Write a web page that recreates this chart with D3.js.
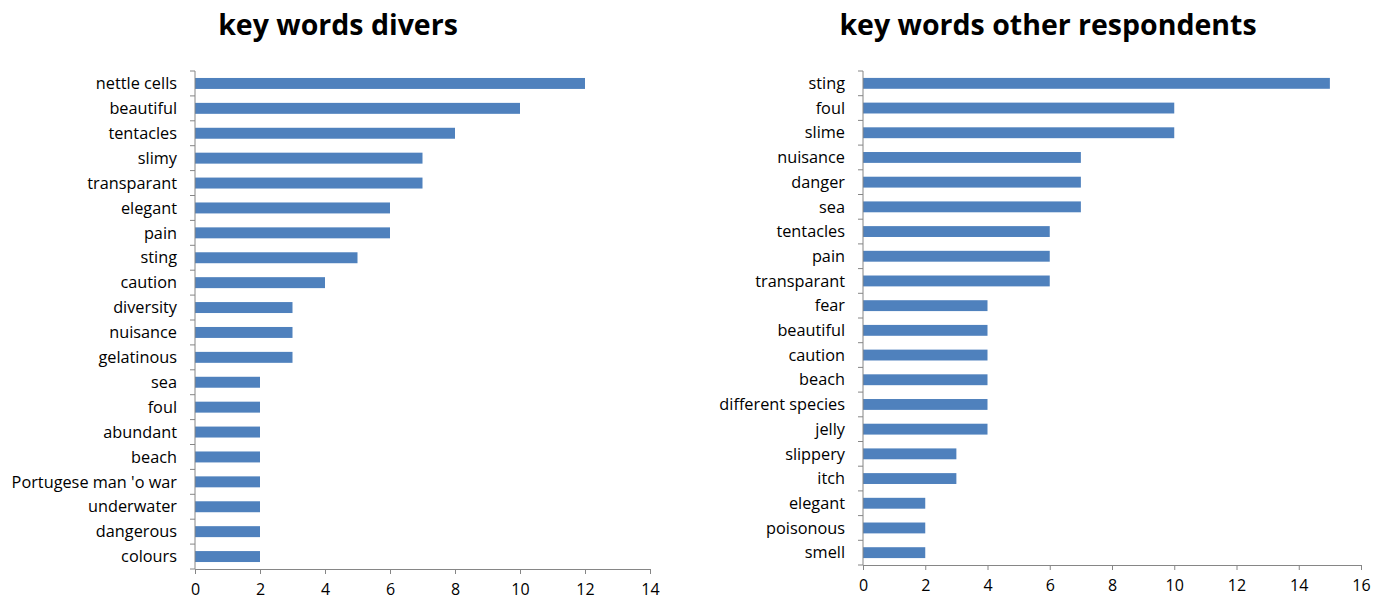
<!DOCTYPE html>
<html>
<head>
<meta charset="utf-8">
<script src="https://cdn.jsdelivr.net/npm/d3@7"></script>
<style>
  body { margin: 0; background: #fff; }
  svg text { font-family: "Open Sans", "Noto Sans", sans-serif; fill: #000; }
  .title { font-weight: bold; font-size: 28.5px; }
  .cat text { font-size: 16.3px; }
  .tick text { font-size: 16px; }
</style>
</head>
<body>
<div id="viz"></div>
<script>
const width = 1374;
const height = 601;

// left chart: divers
const diverWords = ["nettle cells", "beautiful", "tentacles", "slimy", "transparant", "elegant", "pain", "sting",
    "caution", "diversity", "nuisance", "gelatinous", "sea", "foul", "abundant", "beach",
    "Portugese man 'o war", "underwater", "dangerous", "colours"];
const diverCounts = [12, 10, 8, 7, 7, 6, 6, 5, 4, 3, 3, 3, 2, 2, 2, 2, 2, 2, 2, 2];
const diverTicks = [0, 2, 4, 6, 8, 10, 12, 14];

// right chart: other respondents
const otherWords = ["sting", "foul", "slime", "nuisance", "danger", "sea", "tentacles", "pain", "transparant",
    "fear", "beautiful", "caution", "beach", "different species", "jelly", "slippery", "itch",
    "elegant", "poisonous", "smell"];
const otherCounts = [15, 10, 10, 7, 7, 7, 6, 6, 6, 4, 4, 4, 4, 4, 4, 3, 3, 2, 2, 2];
const otherTicks = [0, 2, 4, 6, 8, 10, 12, 14, 16];

const svg = d3.select("#viz")
    .append("svg")
    .attr("width", width)
    .attr("height", height);

const drawChart = (opts) => {
    const { words, counts, ticks, title, left, right, top, bottom, titleX } = opts;
    const innerW = right - left;
    const innerH = bottom - top;
    const data = words.map((w, i) => ({ word: w, value: counts[i] }));

    const xScale = d3.scaleLinear()
        .domain([0, d3.max(ticks)])
        .range([0, innerW]);
    const yScale = d3.scaleBand()
        .domain(words)
        .range([0, innerH])
        .paddingInner(0.56)
        .paddingOuter(0.28);

    const g = svg.append("g")
        .attr("transform", `translate(${left}, ${top})`);

    g.selectAll("rect")
        .data(data)
        .enter()
        .append("rect")
        .attr("x", 0)
        .attr("y", d => yScale(d.word))
        .attr("width", d => xScale(d.value))
        .attr("height", yScale.bandwidth())
        .attr("fill", "#4f81bd");

    // x axis
    const xAxis = d3.axisBottom(xScale)
        .tickValues(ticks)
        .tickSize(5)
        .tickPadding(6)
        .tickSizeOuter(0);
    const xAxisG = g.append("g")
        .attr("transform", `translate(0, ${innerH})`)
        .call(xAxis);
    xAxisG.selectAll("line, path").attr("stroke", "#868686");
    xAxisG.selectAll("text").attr("dy", "0.95em");

    // y axis: ticks sit between categories
    const bounds = d3.range(words.length + 1).map(i => i * innerH / words.length);
    const yG = g.append("g");
    yG.append("line")
        .attr("x1", 0).attr("x2", 0)
        .attr("y1", 0).attr("y2", innerH)
        .attr("stroke", "#868686");
    yG.selectAll(".ytick")
        .data(bounds)
        .enter()
        .append("line")
        .attr("x1", -5).attr("x2", 0)
        .attr("y1", d => d).attr("y2", d => d)
        .attr("stroke", "#868686");

    g.append("g")
        .attr("class", "cat")
        .selectAll("text")
        .data(data)
        .enter()
        .append("text")
        .attr("x", -18)
        .attr("y", d => yScale(d.word) + yScale.bandwidth() / 2)
        .attr("dy", "0.35em")
        .attr("text-anchor", "end")
        .text(d => d.word);

    svg.append("text")
        .attr("class", "title")
        .attr("x", titleX)
        .attr("y", 35)
        .attr("text-anchor", "middle")
        .text(title);
};

drawChart({
    words: diverWords, counts: diverCounts, ticks: diverTicks,
    title: "key words divers",
    left: 195, right: 650, top: 71, bottom: 569, titleX: 338
});

drawChart({
    words: otherWords, counts: otherCounts, ticks: otherTicks,
    title: "key words other respondents",
    left: 863, right: 1361, top: 71, bottom: 565, titleX: 1048
});
</script>
</body>
</html>
